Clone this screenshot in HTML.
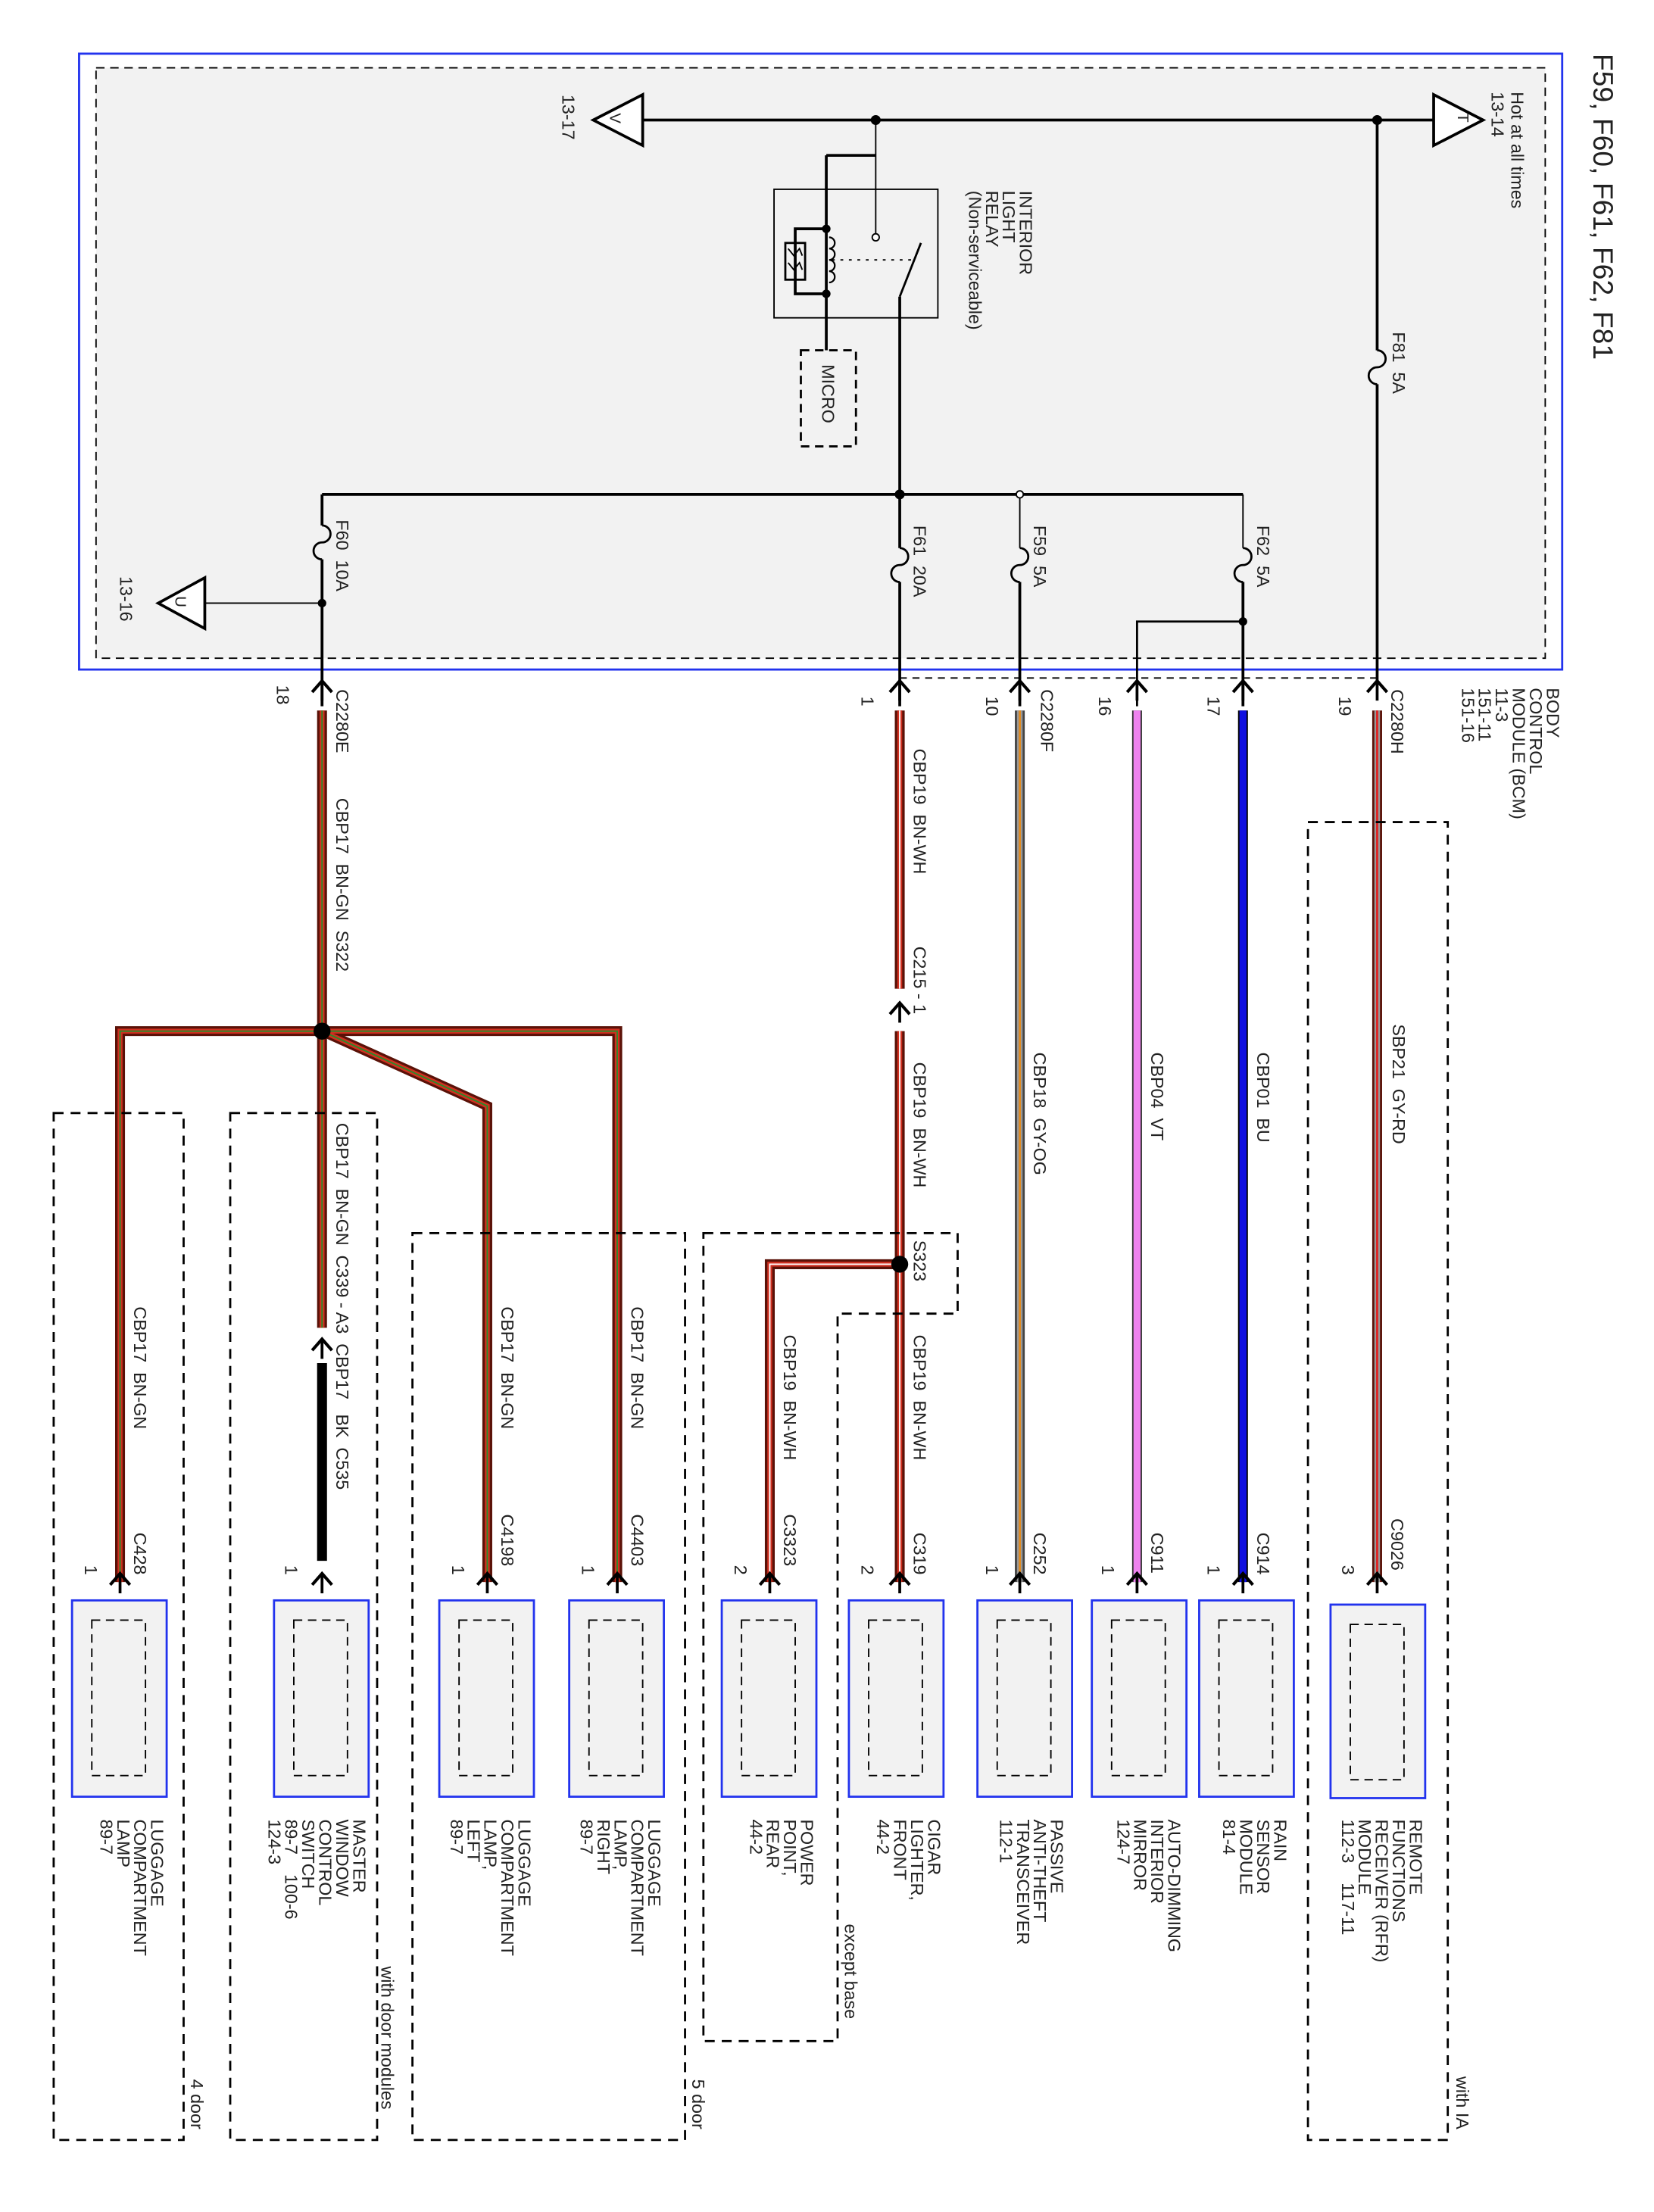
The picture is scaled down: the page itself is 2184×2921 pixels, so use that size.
<!DOCTYPE html>
<html><head><meta charset="utf-8"><style>
html,body{margin:0;padding:0;background:#fff}
svg{display:block}
text{font-family:"Liberation Sans",sans-serif;font-size:12.5px;fill:#222;white-space:pre}
</style></head><body>
<svg width="2184" height="2921" viewBox="0 0 1171 1566" preserveAspectRatio="none" xmlns="http://www.w3.org/2000/svg">
<defs>
<g id="arr"><path d="M-7,8 L0,0 L7,8" fill="none" stroke="#000" stroke-width="2.2"/><line x1="0" y1="0" x2="0" y2="14" stroke="#000" stroke-width="2"/></g>
</defs>
<rect x="56" y="38" width="1050" height="436" fill="#fff" stroke="#2233ee" stroke-width="1.5"/>
<rect x="68" y="48" width="1026" height="418" fill="#f2f2f2" stroke="#000" stroke-width="1" stroke-dasharray="6,4"/>
<text transform="translate(1128,38) rotate(90)" style="font-size:20px">F59, F60, F61, F62, F81</text>
<g stroke="#000" stroke-width="2" fill="none">
<line x1="455" y1="85" x2="1015" y2="85"/>
<polygon points="455,67 455,103 420,85" fill="#fff"/>
<polygon points="1015,67 1015,103 1050,85" fill="#fff"/>
<line x1="975" y1="85" x2="975" y2="248"/>
<path d="M975,248 a6,6 0 0 1 0,12 a6,6 0 0 0 0,12" stroke-width="1.5"/>
<line x1="975" y1="272" x2="975" y2="485"/>
<line x1="620" y1="85" x2="620" y2="110" stroke-width="1"/>
<line x1="585" y1="110" x2="620" y2="110"/>
<line x1="585" y1="110" x2="585" y2="248"/>
<line x1="620" y1="110" x2="620" y2="168" stroke-width="1"/>
<rect x="548" y="134" width="116" height="91" stroke-width="1"/>
<path d="M585,162 H563 V208 H585" stroke-width="2"/>
<rect x="556" y="172" width="14" height="26" stroke-width="1.5"/>
<path d="M558,176 l4,5 l4,-5 l2,5 M558,186 l4,5 l4,-5 l2,5" stroke-width="1"/>
<path d="M587,168 a4,4 0 0 1 0,8 a4,4 0 0 1 0,8 a4,4 0 0 1 0,8 a4,4 0 0 1 0,8" stroke-width="1.2"/>
<line x1="589" y1="184" x2="648" y2="184" stroke-width="1" stroke-dasharray="2,4"/>
<line x1="637" y1="210" x2="652" y2="172" stroke-width="1.5"/>
<line x1="637" y1="210" x2="637" y2="350"/>
<line x1="228" y1="350" x2="880" y2="350"/>
<line x1="228" y1="350" x2="228" y2="372"/>
<path d="M228,372 a6,6 0 0 1 0,12 a6,6 0 0 0 0,12" stroke-width="1.5"/>
<line x1="228" y1="396" x2="228" y2="500"/>
<line x1="145" y1="427" x2="228" y2="427" stroke-width="1"/>
<polygon points="145,409 145,445 112,427" fill="#fff"/>
<line x1="637" y1="350" x2="637" y2="388"/>
<path d="M637,388 a6,6 0 0 1 0,12 a6,6 0 0 0 0,12" stroke-width="1.5"/>
<line x1="637" y1="412" x2="637" y2="500"/>
<line x1="722" y1="350" x2="722" y2="388" stroke-width="1"/>
<path d="M722,388 a6,6 0 0 1 0,12 a6,6 0 0 0 0,12" stroke-width="1.5"/>
<line x1="722" y1="412" x2="722" y2="500"/>
<line x1="880" y1="350" x2="880" y2="388" stroke-width="1"/>
<path d="M880,388 a6,6 0 0 1 0,12 a6,6 0 0 0 0,12" stroke-width="1.5"/>
<line x1="880" y1="412" x2="880" y2="500"/>
<path d="M880,440 H805 V500" stroke-width="1.5"/>
<rect x="567" y="248" width="39" height="68" stroke-width="1.5" stroke-dasharray="6,4" fill="#f2f2f2"/>
</g>
<g fill="#000">
<circle cx="620" cy="85" r="3.5"/><circle cx="975" cy="85" r="3.5"/><circle cx="637" cy="350" r="3.5"/>
<circle cx="228" cy="427" r="3"/><circle cx="880" cy="440" r="3"/><circle cx="585" cy="162" r="3"/><circle cx="585" cy="208" r="3"/>
</g>
<circle cx="620" cy="168" r="2.5" fill="#fff" stroke="#000"/><circle cx="722" cy="350" r="2.5" fill="#fff" stroke="#000"/>
<text transform="translate(1070,65) rotate(90)">Hot at all times</text>
<text transform="translate(1056,65) rotate(90)">13-14</text>
<text transform="translate(1032,80) rotate(90)" style="font-size:11px">T</text>
<text transform="translate(432,80) rotate(90)" style="font-size:11px">V</text>
<text transform="translate(124,422) rotate(90)" style="font-size:11px">U</text>
<text transform="translate(398,67) rotate(90)">13-17</text>
<text transform="translate(722,135) rotate(90)">INTERIOR</text>
<text transform="translate(710,135) rotate(90)">LIGHT</text>
<text transform="translate(698,135) rotate(90)">RELAY</text>
<text transform="translate(686,135) rotate(90)">(Non-serviceable)</text>
<text transform="translate(582,258) rotate(90)">MICRO</text>
<text transform="translate(986,235) rotate(90)">F81  5A</text>
<text transform="translate(238,368) rotate(90)">F60  10A</text>
<text transform="translate(647,372) rotate(90)">F61  20A</text>
<text transform="translate(732,372) rotate(90)">F59  5A</text>
<text transform="translate(890,372) rotate(90)">F62  5A</text>
<text transform="translate(85,408) rotate(90)">13-16</text>
<text transform="translate(1095,487) rotate(90)">BODY</text>
<text transform="translate(1083,487) rotate(90)">CONTROL</text>
<text transform="translate(1071,487) rotate(90)">MODULE (BCM)</text>
<text transform="translate(1059,487) rotate(90)">11-3</text>
<text transform="translate(1047,487) rotate(90)">151-11</text>
<text transform="translate(1035,487) rotate(90)">151-16</text>
<text transform="translate(985,488) rotate(90)">C2280H</text>
<text transform="translate(948,493) rotate(90)">19</text>
<text transform="translate(855,493) rotate(90)">17</text>
<text transform="translate(778,493) rotate(90)">16</text>
<text transform="translate(737,488) rotate(90)">C2280F</text>
<text transform="translate(698,493) rotate(90)">10</text>
<text transform="translate(610,493) rotate(90)">1</text>
<text transform="translate(238,488) rotate(90)">C2280E</text>
<text transform="translate(196,485) rotate(90)">18</text>
<line x1="637" y1="480" x2="975" y2="480" stroke="#000" stroke-width="1" stroke-dasharray="5,4"/>
<g fill="none" stroke-linejoin="miter">
<g stroke="#5a1208" stroke-width="7">
<path d="M228,503 V940"/><path d="M228,730 H85 V1120"/><path d="M228,730 H437 V1120"/><path d="M228,730 L345,783 V1120"/>
<path d="M637,503 V700"/><path d="M637,730 V1120"/><path d="M637,895 H545 V1120"/>
<path d="M975,503 V1120"/>
</g>
<g stroke="#d03020" stroke-width="3.5">
<path d="M228,503 V940"/><path d="M228,730 H85 V1120"/><path d="M228,730 H437 V1120"/><path d="M228,730 L345,783 V1120"/>
<path d="M637,503 V700"/><path d="M637,730 V1120"/><path d="M637,895 H545 V1120"/>
</g>
<g stroke="#2a8a2a" stroke-width="1"><path d="M228,503 V940"/><path d="M228,730 H85 V1120"/><path d="M228,730 H437 V1120"/><path d="M228,730 L345,783 V1120"/></g>
<g stroke="#fff" stroke-width="1"><path d="M637,503 V700"/><path d="M637,730 V1120"/><path d="M637,895 H545 V1120"/></g>
<path d="M975,503 V1120" stroke="#999" stroke-width="4"/><path d="M975,503 V1120" stroke="#e02020" stroke-width="1.5"/>
<path d="M722,503 V1120" stroke="#444" stroke-width="7"/><path d="M722,503 V1120" stroke="#999" stroke-width="4"/><path d="M722,503 V1120" stroke="#e08a20" stroke-width="1.5"/>
<path d="M805,503 V1120" stroke="#333" stroke-width="7"/><path d="M805,503 V1120" stroke="#ee82ee" stroke-width="5"/>
<path d="M880,503 V1120" stroke="#000" stroke-width="7"/><path d="M880,503 V1120" stroke="#1010e0" stroke-width="5"/>
<path d="M228,965 V1105" stroke="#000" stroke-width="7"/>
</g>
<circle cx="228" cy="730" r="6" fill="#000"/><circle cx="637" cy="895" r="6" fill="#000"/>
<use href="#arr" x="228" y="482"/><use href="#arr" x="637" y="482"/><use href="#arr" x="722" y="482"/><use href="#arr" x="805" y="482"/><use href="#arr" x="880" y="482"/><use href="#arr" x="975" y="482"/>
<use href="#arr" x="637" y="710"/><use href="#arr" x="228" y="948"/>
<text transform="translate(238,565) rotate(90)">CBP17  BN-GN  S322</text>
<text transform="translate(647,530) rotate(90)">CBP19  BN-WH</text>
<text transform="translate(647,670) rotate(90)">C215 - 1</text>
<text transform="translate(647,752) rotate(90)">CBP19  BN-WH</text>
<text transform="translate(647,878) rotate(90)">S323</text>
<text transform="translate(732,745) rotate(90)">CBP18  GY-OG</text>
<text transform="translate(815,745) rotate(90)">CBP04  VT</text>
<text transform="translate(890,745) rotate(90)">CBP01  BU</text>
<text transform="translate(986,725) rotate(90)">SBP21  GY-RD</text>
<text transform="translate(238,795) rotate(90)">CBP17  BN-GN  C339 - A3  CBP17   BK  C535</text>
<text transform="translate(95,925) rotate(90)">CBP17  BN-GN</text>
<text transform="translate(355,925) rotate(90)">CBP17  BN-GN</text>
<text transform="translate(447,925) rotate(90)">CBP17  BN-GN</text>
<text transform="translate(555,945) rotate(90)">CBP19  BN-WH</text>
<text transform="translate(647,945) rotate(90)">CBP19  BN-WH</text>
<text transform="translate(95,1085) rotate(90)">C428</text><text transform="translate(60,1108) rotate(90)">1</text>
<text transform="translate(202,1108) rotate(90)">1</text>
<text transform="translate(355,1072) rotate(90)">C4198</text><text transform="translate(320,1108) rotate(90)">1</text>
<text transform="translate(447,1072) rotate(90)">C4403</text><text transform="translate(412,1108) rotate(90)">1</text>
<text transform="translate(555,1072) rotate(90)">C3323</text><text transform="translate(520,1108) rotate(90)">2</text>
<text transform="translate(647,1085) rotate(90)">C319</text><text transform="translate(610,1108) rotate(90)">2</text>
<text transform="translate(732,1085) rotate(90)">C252</text><text transform="translate(698,1108) rotate(90)">1</text>
<text transform="translate(815,1085) rotate(90)">C911</text><text transform="translate(780,1108) rotate(90)">1</text>
<text transform="translate(890,1085) rotate(90)">C914</text><text transform="translate(855,1108) rotate(90)">1</text>
<text transform="translate(985,1075) rotate(90)">C9026</text><text transform="translate(950,1108) rotate(90)">3</text>
<g>
<g transform="translate(85,0)"><use href="#arr" x="0" y="1114"/><rect x="-34" y="1133" width="67" height="139" fill="#f2f2f2" stroke="#2233ee" stroke-width="1.5"/><rect x="-20" y="1147" width="38" height="110" fill="none" stroke="#000" stroke-dasharray="6,4"/></g>
<g transform="translate(228,0)"><use href="#arr" x="0" y="1114"/><rect x="-34" y="1133" width="67" height="139" fill="#f2f2f2" stroke="#2233ee" stroke-width="1.5"/><rect x="-20" y="1147" width="38" height="110" fill="none" stroke="#000" stroke-dasharray="6,4"/></g>
<g transform="translate(345,0)"><use href="#arr" x="0" y="1114"/><rect x="-34" y="1133" width="67" height="139" fill="#f2f2f2" stroke="#2233ee" stroke-width="1.5"/><rect x="-20" y="1147" width="38" height="110" fill="none" stroke="#000" stroke-dasharray="6,4"/></g>
<g transform="translate(437,0)"><use href="#arr" x="0" y="1114"/><rect x="-34" y="1133" width="67" height="139" fill="#f2f2f2" stroke="#2233ee" stroke-width="1.5"/><rect x="-20" y="1147" width="38" height="110" fill="none" stroke="#000" stroke-dasharray="6,4"/></g>
<g transform="translate(545,0)"><use href="#arr" x="0" y="1114"/><rect x="-34" y="1133" width="67" height="139" fill="#f2f2f2" stroke="#2233ee" stroke-width="1.5"/><rect x="-20" y="1147" width="38" height="110" fill="none" stroke="#000" stroke-dasharray="6,4"/></g>
<g transform="translate(635,0)"><use href="#arr" x="2" y="1114"/><rect x="-34" y="1133" width="67" height="139" fill="#f2f2f2" stroke="#2233ee" stroke-width="1.5"/><rect x="-20" y="1147" width="38" height="110" fill="none" stroke="#000" stroke-dasharray="6,4"/></g>
<g transform="translate(722,0)"><use href="#arr" x="0" y="1114"/><rect x="-30" y="1133" width="67" height="139" fill="#f2f2f2" stroke="#2233ee" stroke-width="1.5"/><rect x="-16" y="1147" width="38" height="110" fill="none" stroke="#000" stroke-dasharray="6,4"/></g>
<g transform="translate(805,0)"><use href="#arr" x="0" y="1114"/><rect x="-32" y="1133" width="67" height="139" fill="#f2f2f2" stroke="#2233ee" stroke-width="1.5"/><rect x="-18" y="1147" width="38" height="110" fill="none" stroke="#000" stroke-dasharray="6,4"/></g>
<g transform="translate(880,0)"><use href="#arr" x="0" y="1114"/><rect x="-31" y="1133" width="67" height="139" fill="#f2f2f2" stroke="#2233ee" stroke-width="1.5"/><rect x="-17" y="1147" width="38" height="110" fill="none" stroke="#000" stroke-dasharray="6,4"/></g>
<g transform="translate(975,0)"><use href="#arr" x="0" y="1114"/><rect x="-33" y="1136" width="67" height="137" fill="#f2f2f2" stroke="#2233ee" stroke-width="1.5"/><rect x="-19" y="1150" width="38" height="110" fill="none" stroke="#000" stroke-dasharray="6,4"/></g>
</g>
<g>
<text transform="translate(107,1288) rotate(90)">LUGGAGE</text><text transform="translate(95,1288) rotate(90)">COMPARTMENT</text><text transform="translate(83,1288) rotate(90)">LAMP</text><text transform="translate(71,1288) rotate(90)">89-7</text>
<text transform="translate(250,1288) rotate(90)">MASTER</text><text transform="translate(238,1288) rotate(90)">WINDOW</text><text transform="translate(226,1288) rotate(90)">CONTROL</text><text transform="translate(214,1288) rotate(90)">SWITCH</text><text transform="translate(202,1288) rotate(90)">89-7    100-6</text><text transform="translate(190,1288) rotate(90)">124-3</text>
<text transform="translate(367,1288) rotate(90)">LUGGAGE</text><text transform="translate(355,1288) rotate(90)">COMPARTMENT</text><text transform="translate(343,1288) rotate(90)">LAMP,</text><text transform="translate(331,1288) rotate(90)">LEFT</text><text transform="translate(319,1288) rotate(90)">89-7</text>
<text transform="translate(459,1288) rotate(90)">LUGGAGE</text><text transform="translate(447,1288) rotate(90)">COMPARTMENT</text><text transform="translate(435,1288) rotate(90)">LAMP,</text><text transform="translate(423,1288) rotate(90)">RIGHT</text><text transform="translate(411,1288) rotate(90)">89-7</text>
<text transform="translate(567,1288) rotate(90)">POWER</text><text transform="translate(555,1288) rotate(90)">POINT,</text><text transform="translate(543,1288) rotate(90)">REAR</text><text transform="translate(531,1288) rotate(90)">44-2</text>
<text transform="translate(657,1288) rotate(90)">CIGAR</text><text transform="translate(645,1288) rotate(90)">LIGHTER,</text><text transform="translate(633,1288) rotate(90)">FRONT</text><text transform="translate(621,1288) rotate(90)">44-2</text>
<text transform="translate(744,1288) rotate(90)">PASSIVE</text><text transform="translate(732,1288) rotate(90)">ANTI-THEFT</text><text transform="translate(720,1288) rotate(90)">TRANSCEIVER</text><text transform="translate(708,1288) rotate(90)">112-1</text>
<text transform="translate(827,1288) rotate(90)">AUTO-DIMMING</text><text transform="translate(815,1288) rotate(90)">INTERIOR</text><text transform="translate(803,1288) rotate(90)">MIRROR</text><text transform="translate(791,1288) rotate(90)">124-7</text>
<text transform="translate(902,1288) rotate(90)">RAIN</text><text transform="translate(890,1288) rotate(90)">SENSOR</text><text transform="translate(878,1288) rotate(90)">MODULE</text><text transform="translate(866,1288) rotate(90)">81-4</text>
<text transform="translate(998,1288) rotate(90)">REMOTE</text><text transform="translate(986,1288) rotate(90)">FUNCTIONS</text><text transform="translate(974,1288) rotate(90)">RECEIVER (RFR)</text><text transform="translate(962,1288) rotate(90)">MODULE</text><text transform="translate(950,1288) rotate(90)">112-3    117-11</text>
</g>
<g fill="none" stroke="#000" stroke-width="1.5" stroke-dasharray="7,5">
<rect x="38" y="788" width="92" height="727"/>
<rect x="163" y="788" width="104" height="727"/>
<rect x="292" y="873" width="193" height="642"/>
<path d="M498,873 H678 V930 H593 V1445 H498 Z"/>
<rect x="926" y="582" width="99" height="933"/>
</g>
<text transform="translate(135,1472) rotate(90)">4 door</text>
<text transform="translate(270,1392) rotate(90)">with door modules</text>
<text transform="translate(490,1472) rotate(90)">5 door</text>
<text transform="translate(598,1362) rotate(90)">except base</text>
<text transform="translate(1031,1470) rotate(90)">with IA</text>
</svg>
</body></html>
